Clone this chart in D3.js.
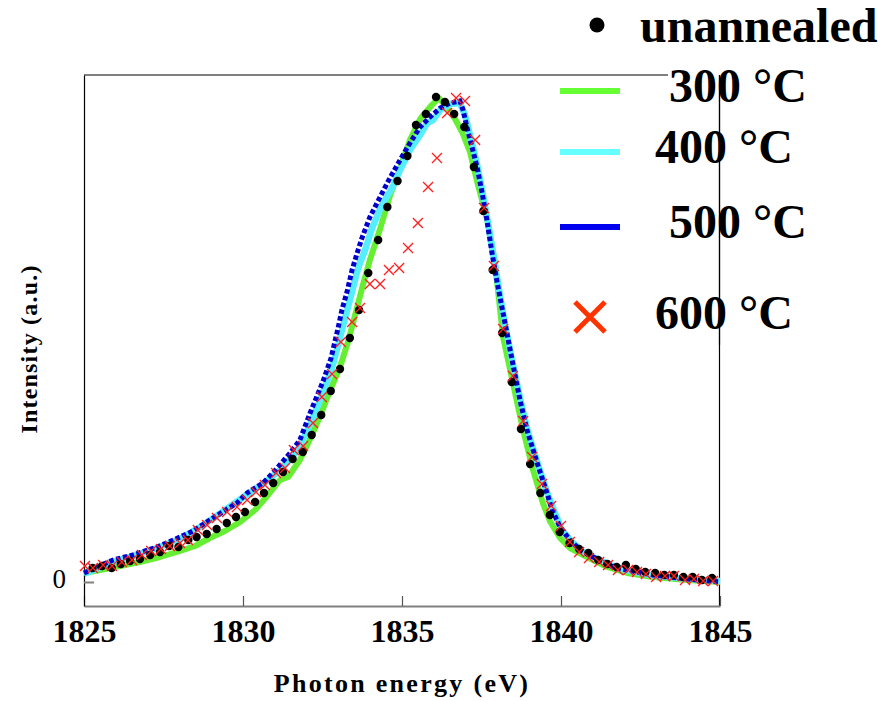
<!DOCTYPE html>
<meta charset="utf-8">
<script src="https://d3js.org/d3.v7.min.js"></script>
<style>
  body { margin: 0; background: #fff; }
  text { font-family: "Liberation Serif", "Times New Roman", serif; }
</style>
<div id="chart"></div>
<script>
// photon energy (eV) / intensity (a.u.)

// unannealed (black dots)
var unEnergy = [1825.27, 1825.57, 1825.87, 1826.16, 1826.45, 1826.76, 1827.08, 1827.39, 1827.68, 1827.97,
  1828.28, 1828.54, 1828.86, 1829.17, 1829.49, 1829.78, 1830.06, 1830.38, 1830.66, 1830.95,
  1831.26, 1831.56, 1831.88, 1832.16, 1832.46, 1832.76, 1833.05, 1833.36, 1833.65, 1833.94,
  1834.25, 1834.54, 1834.86, 1835.17, 1835.44, 1835.75, 1836.07, 1836.35, 1836.64, 1836.96,
  1837.26, 1837.56, 1837.85, 1838.15, 1838.45, 1838.74, 1839.03, 1839.35, 1839.65, 1839.96,
  1840.27, 1840.57, 1840.86, 1841.17, 1841.46, 1841.75, 1842.04, 1842.35, 1842.65, 1842.96,
  1843.25, 1843.55, 1843.85, 1844.14, 1844.43, 1844.75];
var unIntensity = [14, 16, 14, 18, 21, 23, 27, 30, 36, 35,
  42, 45, 48, 53, 59, 65, 70, 80, 89, 99,
  110, 123, 130, 147, 167, 191, 213, 244, 272, 309,
  342, 375, 401, 426, 457, 468, 485, 480, 468, 455,
  415, 371, 312, 249, 200, 153, 118, 89, 67, 50,
  39, 33, 29, 22, 18, 15, 17, 13, 10, 9,
  7, 7, 5, 5, 2, 4];

// 300 °C (green line)
var e300 = [1825.00, 1825.50, 1826.13, 1826.76, 1827.39, 1828.02, 1828.49, 1828.96, 1829.43, 1829.91,
  1830.38, 1830.79, 1831.16, 1831.42, 1831.79, 1832.14, 1832.45, 1832.77, 1833.05, 1833.30,
  1833.55, 1833.77, 1833.99, 1834.31, 1834.62, 1834.94, 1835.25, 1835.57, 1835.94, 1836.16,
  1836.38, 1836.60, 1836.89, 1837.14, 1837.39, 1837.67, 1837.92, 1838.18, 1838.49, 1838.81,
  1839.12, 1839.43, 1839.65, 1839.97, 1840.28, 1840.82, 1841.45, 1842.08, 1842.89, 1843.96, 1845.00];
var i300 = [9, 12, 16, 20, 25, 31, 36, 44, 51, 60,
  72, 87, 102, 105, 122, 145, 168, 194, 215, 240,
  270, 297, 322, 353, 386, 414, 442, 463, 477, 484,
  476, 467, 450, 430, 397, 364, 320, 245, 199, 152,
  112, 79, 61, 44, 34, 25, 15, 9, 5, 2, 0];

// 400 °C (cyan line)
var e400 = [1825.00, 1825.91, 1826.54, 1827.30, 1828.02, 1828.65, 1829.12, 1830.06, 1830.63, 1831.16,
  1831.54, 1831.79, 1832.17, 1832.48, 1832.80, 1833.05, 1833.21, 1833.43, 1833.62, 1833.84,
  1834.06, 1834.37, 1834.69, 1834.94, 1835.25, 1835.57, 1835.79, 1835.98, 1836.20, 1836.51,
  1836.82, 1836.98, 1837.14, 1837.33, 1837.52, 1837.70, 1837.89, 1838.08, 1838.27, 1838.46,
  1838.71, 1838.96, 1839.28, 1839.59, 1839.81, 1840.03, 1840.35, 1840.66, 1841.07, 1841.70,
  1842.17, 1842.96, 1844.06, 1845.00];
var i400 = [8, 20, 26, 34, 43, 55, 65, 86, 98, 112,
  125, 136, 162, 187, 214, 244, 264, 290, 314, 332,
  354, 377, 394, 412, 432, 447, 459, 462, 472, 478,
  479, 467, 447, 422, 392, 360, 324, 287, 252, 222,
  184, 150, 117, 87, 69, 52, 40, 31, 24, 15,
  11, 6, 3, 1];

// 500 °C (blue line)
var e500 = [1825.00, 1825.91, 1826.54, 1827.30, 1828.02, 1828.43, 1829.06, 1829.81, 1830.13, 1830.63,
  1830.94, 1831.48, 1831.79, 1832.11, 1832.52, 1832.77, 1832.99, 1833.11, 1833.27, 1833.43,
  1833.59, 1833.74, 1833.99, 1834.31, 1834.62, 1834.94, 1835.25, 1835.57, 1835.88, 1836.20,
  1836.51, 1836.82, 1836.92, 1837.04, 1837.20, 1837.36, 1837.52, 1837.67, 1837.83, 1837.99,
  1838.14, 1838.30, 1838.40, 1838.71, 1838.93, 1839.25, 1839.56, 1839.72, 1839.97, 1840.28,
  1840.60, 1841.01, 1841.64, 1842.08, 1842.89, 1843.96, 1845.00];
var i500 = [9, 22, 27, 35, 45, 51, 64, 79, 89, 99,
  109, 129, 142, 169, 201, 224, 254, 272, 290, 312,
  329, 344, 365, 385, 404, 422, 439, 455, 465, 474,
  479, 481, 472, 455, 435, 415, 389, 362, 329, 300,
  275, 249, 232, 182, 152, 119, 89, 72, 55, 42,
  32, 25, 15, 12, 7, 3, 0];

// 600 °C (red crosses)
var e600 = [1825.03, 1825.28, 1825.60, 1825.88, 1826.19, 1826.51, 1826.82, 1827.11, 1827.42, 1827.70,
  1828.02, 1828.27, 1828.58, 1828.87, 1829.18, 1829.50, 1829.81, 1830.13, 1830.41, 1830.69,
  1831.04, 1831.32, 1831.60, 1831.89, 1832.20, 1832.48, 1832.80, 1833.08, 1833.43, 1833.68,
  1833.99, 1834.31, 1834.59, 1834.91, 1835.19, 1835.50, 1835.82, 1836.10, 1836.42, 1836.70,
  1836.98, 1837.30, 1837.58, 1837.89, 1838.18, 1838.49, 1838.81, 1839.09, 1839.40, 1839.69,
  1840.00, 1840.28, 1840.57, 1840.88, 1841.20, 1841.48, 1841.79, 1842.11, 1842.39, 1842.67,
  1842.99, 1843.27, 1843.55, 1843.90, 1844.18, 1844.47, 1844.78];
var i600 = [16, 14, 17, 16, 20, 22, 27, 31, 33, 36,
  39, 42, 52, 57, 64, 70, 75, 82, 90, 97,
  109, 114, 132, 136, 159, 185, 208, 240, 260, 274,
  298, 298, 312, 314, 334, 359, 395, 424, 469, 484,
  481, 442, 374, 316, 253, 206, 161, 125, 98, 76,
  56, 40, 30, 24, 20, 17, 12, 12, 10, 8,
  5, 6, 6, 2, 3, 1, 1];

var xTicks = [1825, 1830, 1835, 1840, 1845];
var yTicks = [0];
var legendLabels = ["unannealed", "300 °C", "400 °C", "500 °C", "600 °C"];

var margin = {top: 75, right: 160, bottom: 95, left: 84},
    width = 880 - margin.left - margin.right,
    height = 701 - margin.top - margin.bottom;

var svgRoot = d3.select("#chart")
  .append("svg")
    .attr("width", 880)
    .attr("height", 701);

var svg = svgRoot.append("g")
    .attr("transform", "translate(" + margin.left + "," + margin.top + ")");

var x = d3.scaleLinear().domain([1825, 1845]).range([0, width]);
var y = d3.scaleLinear().domain([-24, 507]).range([height, 0]);

function pairs(ex, iy) { return ex.map((e, k) => [e, iy[k]]); }

// frame: grey top/bottom, black left/right
svg.append("line").attr("x1", 0).attr("x2", 584).attr("y1", 0).attr("y2", 0)
  .attr("stroke", "#808080").attr("stroke-width", 2);
svg.append("line").attr("x1", width - 0.5).attr("x2", width - 0.5).attr("y1", 0).attr("y2", height)
  .attr("stroke", "#000").attr("stroke-width", 1.2);

// x axis
var xAxis = svg.append("g")
  .attr("transform", "translate(0," + height + ")")
  .call(d3.axisBottom(x).tickValues(xTicks).tickFormat(d3.format("d")).tickSize(-10).tickSizeOuter(0).tickPadding(13));
xAxis.select(".domain").attr("stroke", "#808080").attr("stroke-width", 2);
xAxis.selectAll(".tick line").attr("stroke", "#555").attr("stroke-width", 1.2);
xAxis.selectAll("text")
  .attr("fill", "#000")
  .style("font-family", "'Liberation Serif', 'Times New Roman', serif")
  .style("font-size", "32px")
  .style("font-weight", "bold");

// y axis
var yAxis = svg.append("g")
  .call(d3.axisLeft(y).tickValues(yTicks).tickSize(-10).tickSizeOuter(0).tickPadding(18));
yAxis.select(".domain").attr("stroke", "#000").attr("stroke-width", 1.2);
yAxis.selectAll(".tick line").attr("stroke", "#808080").attr("stroke-width", 2);
yAxis.selectAll("text")
  .attr("fill", "#000")
  .attr("dy", "0.22em")
  .style("font-family", "'Liberation Serif', 'Times New Roman', serif")
  .style("font-size", "27px");

// axis titles
svgRoot.append("text")
  .attr("x", 402).attr("y", 692)
  .attr("text-anchor", "middle")
  .style("font-size", "26px").style("font-weight", "bold").style("letter-spacing", "2.3px")
  .text("Photon energy (eV)");

svgRoot.append("text")
  .attr("transform", "translate(37,349) rotate(-90)")
  .attr("text-anchor", "middle")
  .style("font-size", "24px").style("font-weight", "bold").style("letter-spacing", "1.2px")
  .text("Intensity (a.u.)");

var line = d3.line().x(d => x(d[0])).y(d => y(d[1]));

// 300 °C
svg.append("path").datum(pairs(e300, i300))
  .attr("d", line).attr("fill", "none")
  .attr("stroke", "#66ee33").attr("stroke-width", 6).attr("stroke-linejoin", "round");

// 400 °C
svg.append("path").datum(pairs(e400, i400))
  .attr("d", line).attr("fill", "none")
  .attr("stroke", "#55eeff").attr("stroke-width", 6.5).attr("stroke-linejoin", "round");

// 500 °C - dense square dots
svg.append("path").datum(pairs(e500, i500))
  .attr("d", line).attr("fill", "none")
  .attr("stroke", "#0000cc").attr("stroke-width", 5).attr("stroke-dasharray", "4.5,2.5");

// unannealed
svg.append("g").selectAll("circle")
  .data(pairs(unEnergy, unIntensity))
  .join("circle")
    .attr("cx", d => x(d[0]))
    .attr("cy", d => y(d[1]))
    .attr("r", 4.2)
    .attr("fill", "#000");

// 600 °C crosses
var s = 5;
svg.append("g").selectAll("path")
  .data(pairs(e600, i600))
  .join("path")
    .attr("d", d => {
      var cx = x(d[0]), cy = y(d[1]);
      return "M" + (cx - s) + "," + (cy - s) + "L" + (cx + s) + "," + (cy + s) +
             "M" + (cx - s) + "," + (cy + s) + "L" + (cx + s) + "," + (cy - s);
    })
    .attr("stroke", "#ff2020").attr("stroke-width", 1.3).attr("fill", "none");

// legend
var leg = svgRoot.append("g");
var legStyle = function(t) { t.style("font-size", "48px").style("font-weight", "bold").attr("fill", "#000"); };

leg.append("circle").attr("cx", 597).attr("cy", 25).attr("r", 7.5).attr("fill", "#000");
leg.append("text").attr("x", 640).attr("y", 42).text(legendLabels[0]).call(legStyle);

leg.append("line").attr("x1", 560).attr("x2", 620).attr("y1", 91).attr("y2", 91)
  .attr("stroke", "#66ff33").attr("stroke-width", 6);
leg.append("text").attr("x", 669).attr("y", 102).text(legendLabels[1]).call(legStyle);

leg.append("line").attr("x1", 560).attr("x2", 620).attr("y1", 152).attr("y2", 152)
  .attr("stroke", "#66ffff").attr("stroke-width", 6);
leg.append("text").attr("x", 655).attr("y", 163).text(legendLabels[2]).call(legStyle);

leg.append("line").attr("x1", 560).attr("x2", 620).attr("y1", 227).attr("y2", 227)
  .attr("stroke", "#0000ee").attr("stroke-width", 6);
leg.append("text").attr("x", 669).attr("y", 238).text(legendLabels[3]).call(legStyle);

leg.append("path")
  .attr("d", "M575,302L605,332M575,332L605,302")
  .attr("stroke", "#ff3300").attr("stroke-width", 5).attr("fill", "none");
leg.append("text").attr("x", 655).attr("y", 329).text(legendLabels[4]).call(legStyle);

// right border passes over the legend text like in the original
svgRoot.append("line").attr("x1", 719.5).attr("x2", 719.5).attr("y1", 75).attr("y2", 345)
  .attr("stroke", "#000").attr("stroke-width", 1.2);
</script>
